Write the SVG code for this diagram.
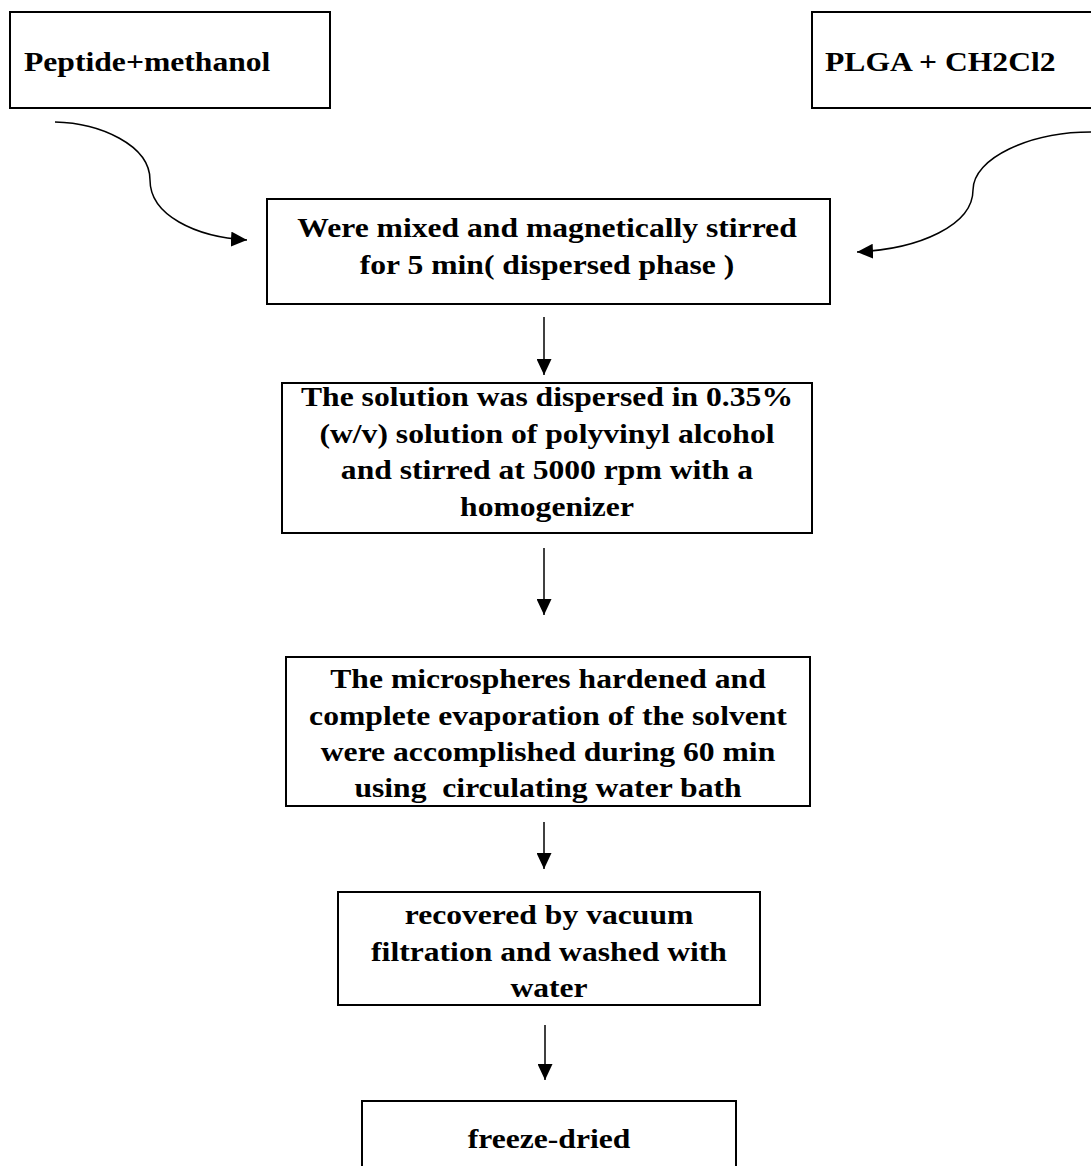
<svg xmlns="http://www.w3.org/2000/svg" width="1091" height="1166" viewBox="0 0 1091 1166">
<style>
.box{fill:#fff;stroke:#000;stroke-width:2}
.t{font-family:"Liberation Serif","Times New Roman",serif;font-weight:bold;font-size:28px;fill:#000}
.c{text-anchor:middle}
.ln{fill:none;stroke:#000;stroke-width:1.5}
</style>
<defs>
<marker id="ah" markerUnits="userSpaceOnUse" markerWidth="17" markerHeight="15" refX="16" refY="7.5" orient="auto">
<path d="M0,0 L16,7.5 L0,15 z" fill="#000"/>
</marker>
</defs>
<rect width="1091" height="1166" fill="#fff"/>
<g id="connectors">
<path class="ln" d="M55,122 C100,123 150,145 150,180 C150,215 195,237 247,240" marker-end="url(#ah)"/>
<path class="ln" d="M1091,132 C1030,132 973,158 973,190 C973,225 920,249 857,252" marker-end="url(#ah)"/>
<line class="ln" x1="544" y1="317" x2="544" y2="375" marker-end="url(#ah)"/>
<line class="ln" x1="544" y1="548" x2="544" y2="615" marker-end="url(#ah)"/>
<line class="ln" x1="544" y1="822" x2="544" y2="869" marker-end="url(#ah)"/>
<line class="ln" x1="545" y1="1025" x2="545" y2="1080" marker-end="url(#ah)"/>
</g>
<g id="peptide">
<rect class="box" x="10" y="12" width="320" height="96"/>
<text class="t" transform="translate(24,71) scale(1.13,1)">Peptide+methanol</text>
</g>
<g id="plga">
<rect class="box" x="812" y="12" width="300" height="96"/>
<text class="t" transform="translate(825,71) scale(1.13,1)">PLGA + CH2Cl2</text>
</g>
<g id="mixed">
<rect class="box" x="267" y="199" width="563" height="105"/>
<text class="t c" transform="translate(547,237) scale(1.13,1)">Were mixed and magnetically stirred</text>
<text class="t c" transform="translate(547,274) scale(1.13,1)">for 5 min( dispersed phase )</text>
</g>
<g id="dispersed">
<rect class="box" x="282" y="383" width="530" height="150"/>
<text class="t c" transform="translate(547,406) scale(1.13,1)">The solution was dispersed in 0.35%</text>
<text class="t c" transform="translate(547,443) scale(1.13,1)">(w/v) solution of polyvinyl alcohol</text>
<text class="t c" transform="translate(547,479) scale(1.13,1)">and stirred at 5000 rpm with a</text>
<text class="t c" transform="translate(547,516) scale(1.13,1)">homogenizer</text>
</g>
<g id="hardened">
<rect class="box" x="286" y="657" width="524" height="149"/>
<text class="t c" transform="translate(548,688) scale(1.13,1)">The microspheres hardened and</text>
<text class="t c" transform="translate(548,725) scale(1.13,1)">complete evaporation of the solvent</text>
<text class="t c" transform="translate(548,761) scale(1.13,1)">were accomplished during 60 min</text>
<text class="t c" transform="translate(548,797) scale(1.13,1)" xml:space="preserve">using  circulating water bath</text>
</g>
<g id="recovered">
<rect class="box" x="338" y="892" width="422" height="113"/>
<text class="t c" transform="translate(549,924) scale(1.13,1)">recovered by vacuum</text>
<text class="t c" transform="translate(549,961) scale(1.13,1)">filtration and washed with</text>
<text class="t c" transform="translate(549,997) scale(1.13,1)">water</text>
</g>
<g id="freeze">
<rect class="box" x="362" y="1101" width="374" height="90"/>
<text class="t c" transform="translate(549,1148) scale(1.13,1)">freeze-dried</text>
</g>
</svg>
